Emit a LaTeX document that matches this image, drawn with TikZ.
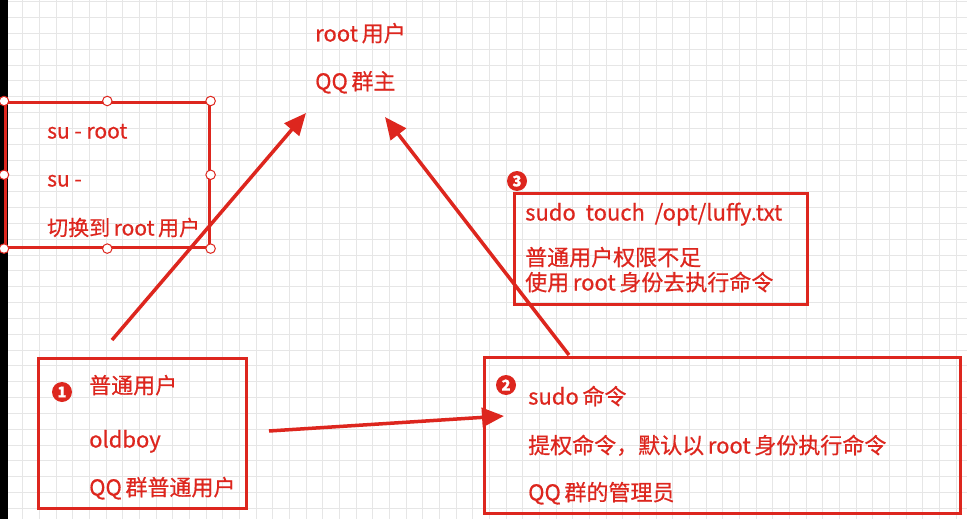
\documentclass[tikz,border=0pt]{standalone}
\usepackage{fontspec}
\setmainfont{Noto Sans CJK SC}[FakeBold=0.6]
\usepackage{xcolor}
\usetikzlibrary{arrows.meta}
\definecolor{annored}{RGB}{221,38,30}
\definecolor{gridgray}{RGB}{230,230,230}
\tikzset{
  frame/.style={draw=annored,line width=2.6pt,rectangle,anchor=north west,inner sep=0pt},
  label/.style={text=annored,anchor=west,inner sep=0pt,text height=17pt,text depth=0pt,font=\fontsize{22}{26}\selectfont},
  badge/.style={circle,fill=annored,text=white,inner sep=0pt,minimum size=20pt,font=\fontsize{15}{15}\selectfont\bfseries},
  handle/.style={circle,draw=annored,fill=white,line width=1pt,inner sep=0pt,minimum size=9.5pt},
  pointer/.style={annored,line width=3.5pt,-{Triangle[length=22pt,width=19pt]}}
}
\begin{document}
\begin{tikzpicture}[x=1pt,y=-1pt]
\useasboundingbox (0,0) rectangle (967,519);
\fill[white] (0,0) rectangle (967,519);

% Grid paper
\foreach \i in {0,...,57}
  \draw[gridgray,line width=0.8pt] ({6+16.67*\i},0) -- ++(0,519);
\foreach \j in {0,...,33}
  \draw[gridgray,line width=0.8pt] (0,{1.7+15.83*\j}) -- ++(967,0);
\fill[black] (0,0) rectangle (8,519);

% Top: root user
\node[label] (root) at (315,33) {root\,用户};
\node[label] (owner) at (315,81) {QQ\,群主};

% su box
\node[frame,minimum width=204pt,minimum height=145pt] (su) at (4,101) {};
\node[label,font=\fontsize{21}{25}\selectfont] (su1) at (47,130) {su - root};
\node[label,font=\fontsize{21}{25}\selectfont] (su2) at (47,178) {su -};
\node[label,font=\fontsize{21}{25}\selectfont] (su3) at (47,227) {切换到\,root\,用户};

% Box 3
\node[frame,minimum width=293pt,minimum height=111pt] (run) at (513,192) {};
\node[badge] (b3) at (517,181) {3};
\node[label] (run1) at (525,212) {sudo\ \ touch\ \ /opt/luffy.txt};
\node[label] (run2) at (525,257) {普通用户权限不足};
\node[label] (run3) at (525,282) {使用\,root\,身份去执行命令};

% Box 1
\node[frame,minimum width=208pt,minimum height=150pt] (normal) at (37,357) {};
\node[badge] (b1) at (62,392) {1};
\node[label] (n1) at (89,385) {普通用户};
\node[label] (n2) at (89,439) {oldboy};
\node[label] (n3) at (89,487) {QQ\,群普通用户};

% Box 2
\node[frame,minimum width=476pt,minimum height=156pt] (sudo) at (483,356) {};
\node[badge] (b2) at (506,385) {2};
\node[label] (s1) at (528,396) {sudo\,命令};
\node[label] (s2) at (528,445) {提权命令，默认以\,root\,身份执行命令};
\node[label] (s3) at (528,492) {QQ\,群的管理员};

% Selection handles
\foreach \a in {north west,north,north east,west,east,south west,south,south east}
  \node[handle] at (su.\a) {};

% Arrows
\coordinate (a1s) at (112,340);
\coordinate (a1e) at (306,113);
\coordinate (a2s) at (569,355);
\coordinate (a2e) at (385,117);
\coordinate (a3s) at (269,431);
\coordinate (a3e) at (504,416);
\draw[pointer] (a1s) -- (a1e);
\draw[pointer] (a2s) -- (a2e);
\draw[pointer] (a3s) -- (a3e);
\end{tikzpicture}
\end{document}
